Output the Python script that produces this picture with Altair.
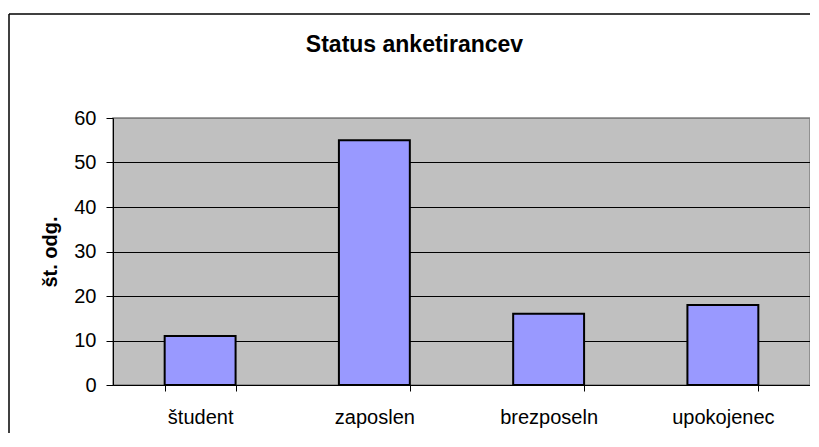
import altair as alt
import pandas as pd

categories = ["študent", "zaposlen", "brezposeln", "upokojenec"]
values = [11, 55, 16, 18]
y_ticks = [0, 10, 20, 30, 40, 50, 60]

df = pd.DataFrame({"status": categories, "count": values})
FONT = "Liberation Sans"

bars = alt.Chart(df).mark_bar(
    color="#9999FF", stroke="black", strokeWidth=2
).encode(
    x=alt.X(
        "status:N",
        sort=categories,
        title=None,
        scale=alt.Scale(paddingInner=0.593, paddingOuter=0.2965),
        axis=alt.Axis(
            labelAngle=0, labelFontSize=20, labelFont=FONT, labelColor="black",
            labelPadding=16, tickBand="extent", tickSize=6, tickColor="black",
            domainColor="black", domainWidth=1, grid=False,
        ),
    ),
    y=alt.Y(
        "count:Q",
        title="št. odg.",
        scale=alt.Scale(domain=[0, 60], nice=False),
        axis=alt.Axis(
            values=y_ticks, labelFontSize=20, labelFont=FONT, labelColor="black",
            labelPadding=10, tickSize=7, tickColor="black",
            domainColor="black", domainWidth=1,
            grid=True,
            gridColor=alt.condition("datum.value == 60", alt.value("#808080"), alt.value("black")),
            gridWidth=1,
            titleFontSize=20, titleFont=FONT, titleFontWeight="bold", titleColor="black",
            titlePadding=13,
        ),
    ),
)

frame_src = pd.DataFrame({"a": [0]})
frame_top = alt.Chart(frame_src).mark_rule(color="black", strokeWidth=1.5).encode(
    x=alt.value(-104), x2=alt.value(1000), y=alt.value(-104),
)
frame_left = alt.Chart(frame_src).mark_rule(color="black", strokeWidth=1.5).encode(
    x=alt.value(-104), y=alt.value(-104), y2=alt.value(600),
)

chart = alt.layer(frame_top, frame_left, bars).properties(
    width=697,
    height=267,
    background="white",
    autosize=alt.AutoSizeParams(type="none"),
    padding={"left": 105, "top": 110, "right": 0, "bottom": 48},
    title=alt.TitleParams(
        "Status anketirancev", fontSize=23, font=FONT, fontWeight="bold",
        color="black", anchor="middle", dx=-47, offset=-62, baseline="alphabetic",
    ),
).configure_view(
    fill="#C0C0C0", stroke="#808080", strokeWidth=1.5
)

chart.save("out.html", embed_options={"renderer": "svg", "actions": False})
